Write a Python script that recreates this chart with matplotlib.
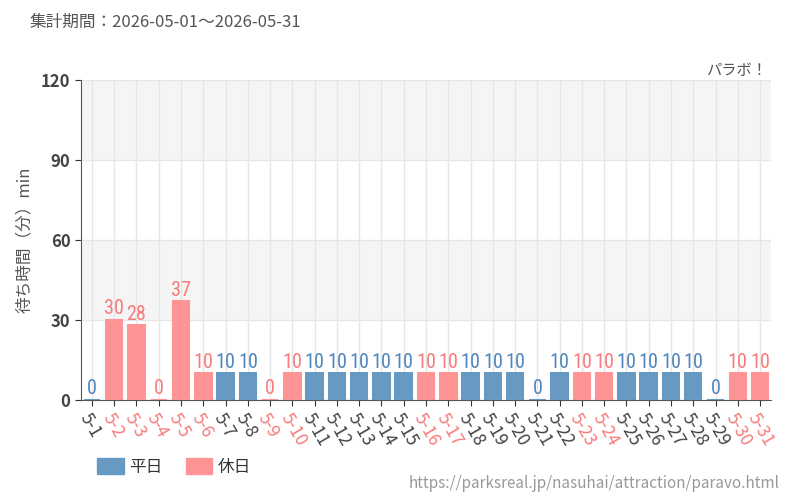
import matplotlib
matplotlib.use("Agg")
import matplotlib.pyplot as plt
import numpy as np
from matplotlib.patches import Patch

plt.rcParams["font.family"] = ["Noto Sans CJK JP", "DejaVu Sans"]

days = [f"5-{d}" for d in range(1, 32)]
waits = [0, 30, 28, 0, 37, 10, 10, 10, 0, 10,
         10, 10, 10, 10, 10, 10, 10, 10, 10, 10,
         0, 10, 10, 10, 10, 10, 10, 10, 0, 10, 10]
holiday = [False, True, True, True, True, True, False, False, True, True,
           False, False, False, False, False, True, True, False, False, False,
           False, False, True, True, False, False, False, False, False, True, True]

BLUE = "#6899c3"
PINK = "#ff9494"
BLUE_TXT = "#4f86bd"
PINK_TXT = "#f77b7b"
GRAY = "#555555"

fig = plt.figure(figsize=(8, 5), dpi=100)
ax = fig.add_axes([0.101, 0.2, 0.863, 0.64])

x = np.arange(len(days))
cols = [PINK if h else BLUE for h in holiday]
ax.bar(x, waits, width=0.74, color=cols, edgecolor=cols, linewidth=1.5, zorder=3)

# value labels (narrow font in the original)
for xi, v, h in zip(x, waits, holiday):
    ax.text(xi, v + 0.6, str(v), ha="center", va="bottom", fontsize=14.5,
            color=PINK_TXT if h else BLUE_TXT,
            family=["Roboto Condensed", "Liberation Sans Narrow", "Roboto"], zorder=4)

ax.set_xlim(-0.5, len(days) - 0.5)
ax.set_ylim(0, 120)
ax.set_yticks([0, 30, 60, 90, 120])
for lo, hi in [(30, 60), (90, 120)]:
    ax.axhspan(lo, hi, color="#f5f5f5", zorder=0, lw=0)
ax.set_xticks(x)
ax.set_xticklabels(days, rotation=-60, ha="left", va="top", rotation_mode="anchor", fontsize=12.5)
for lbl, h in zip(ax.get_xticklabels(), holiday):
    lbl.set_color(PINK_TXT if h else "#444444")
ax.tick_params(axis="y", labelsize=12, labelcolor="#444444", length=4, color="#333333")
ax.tick_params(axis="x", length=4, color="#333333", pad=3)
for lbl in ax.get_yticklabels():
    lbl.set_fontweight("bold")
ax.grid(True, color="#e6e6e6", linewidth=1, zorder=1)
ax.set_axisbelow(True)
for s in ["top", "right"]:
    ax.spines[s].set_visible(False)
ax.spines["left"].set_color("#555555")
ax.spines["bottom"].set_color("#555555")
ax.set_ylabel("待ち時間（分）min", fontsize=12, color=GRAY, labelpad=6)

fig.text(0.0375, 0.955, "集計期間：2026-05-01～2026-05-31", fontsize=12, color=GRAY, va="center")
fig.text(0.959, 0.86, "パラボ！", fontsize=11, color=GRAY, ha="right", va="center")

handles = [Patch(color=BLUE, label="平日"), Patch(color=PINK, label="休日")]
fig.legend(handles=handles, loc="center left", bbox_to_anchor=(0.103, 0.066), ncol=2,
           frameon=False, fontsize=12, handlelength=1.6, handleheight=1.1,
           handletextpad=0.3, columnspacing=1.4, labelcolor="#333333")
fig.text(0.974, 0.034, "https://parksreal.jp/nasuhai/attraction/paravo.html", fontsize=11,
         color="#999999", ha="right", va="center")

fig.savefig("out.png", dpi=100)
